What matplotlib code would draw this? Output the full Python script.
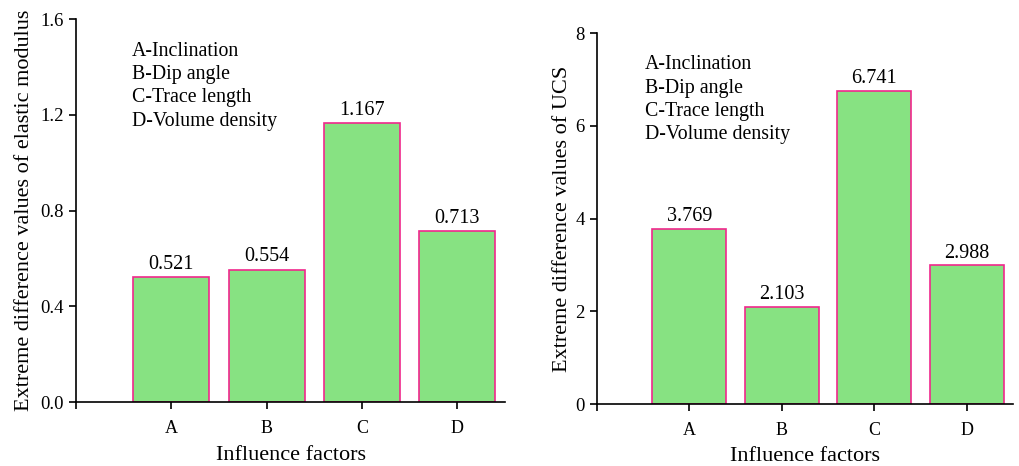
import matplotlib.pyplot as plt

plt.rcParams['font.family'] = ['Liberation Serif', 'DejaVu Serif']

factors = ['A', 'B', 'C', 'D']
legend_lines = ['A-Inclination', 'B-Dip angle', 'C-Trace length', 'D-Volume density']
elastic = [0.521, 0.554, 1.167, 0.713]
ucs = [3.769, 2.103, 6.741, 2.988]

fill = '#87E282'
edge = '#F0278C'

fig = plt.figure(figsize=(10.19, 4.66), dpi=100)
ax1 = fig.add_axes([0.0746, 0.137, 0.421, 0.822])
ax2 = fig.add_axes([0.5859, 0.133, 0.408, 0.796])


def draw(ax, vals, ymax, yticks, fmt, ylabel, note_xy, ypad):
    x = [1, 2, 3, 4]
    ax.bar(x, vals, width=0.8, color=fill, edgecolor=edge, linewidth=1.2)
    for xi, v in zip(x, vals):
        ax.text(xi, v + ymax * 0.008, f'{v:.3f}', ha='center', va='bottom', fontsize=14.5)
    ax.set_xlim(0, 4.5)
    ax.set_ylim(0, ymax)
    ax.set_xticks([0] + x)
    ax.set_xticklabels([''] + factors, fontsize=13)
    ax.set_yticks(yticks)
    ax.set_yticklabels([fmt.format(t) for t in yticks], fontsize=13.5)
    ax.spines['top'].set_visible(False)
    ax.spines['right'].set_visible(False)
    for s in ['left', 'bottom']:
        ax.spines[s].set_linewidth(1.2)
    ax.tick_params(direction='out', length=5, width=1.2, pad=4)
    ax.tick_params(axis='x', pad=8)
    ax.set_xlabel('Influence factors', fontsize=16, labelpad=6)
    ax.set_ylabel(ylabel, fontsize=16, labelpad=ypad)
    ax.text(note_xy[0], note_xy[1], '\n'.join(legend_lines), transform=ax.transAxes,
            fontsize=14.3, va='top', ha='left', linespacing=1.3)


draw(ax1, elastic, 1.6, [0.0, 0.4, 0.8, 1.2, 1.6], '{:.1f}',
     'Extreme difference values of elastic modulus', (0.13, 0.94), 4)
draw(ax2, ucs, 8, [0, 2, 4, 6, 8], '{:d}',
     'Extreme difference values of UCS', (0.115, 0.94), 2)

fig.savefig('out.png', dpi=100)
